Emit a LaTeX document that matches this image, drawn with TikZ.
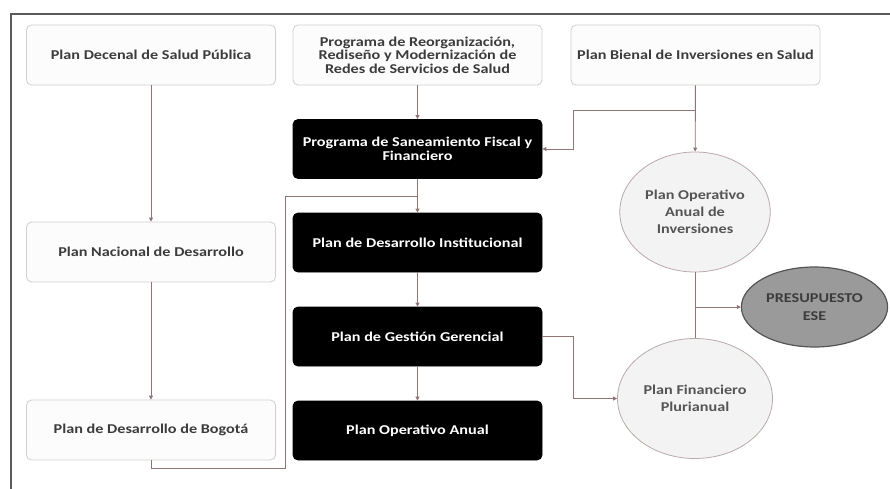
\documentclass[tikz,border=0pt]{standalone}
\usepackage{fontspec}
\setmainfont{Carlito}[FakeStretch=1.2]
\usepackage{xcolor}
\usepackage{tikz}
\usetikzlibrary{arrows.meta,shapes.geometric}
\definecolor{framec}{HTML}{5A5A5A}
\definecolor{boxline}{HTML}{D6CCCC}
\definecolor{boxbg}{HTML}{FCFCFC}
\definecolor{boxtext}{HTML}{3C3C3C}
\definecolor{circline}{HTML}{BBAAAA}
\definecolor{circbg}{HTML}{F3F3F3}
\definecolor{circtext}{HTML}{555555}
\definecolor{budbg}{HTML}{9A9A9A}
\definecolor{budline}{HTML}{555555}
\definecolor{linkc}{HTML}{8E7676}
\tikzset{
  frame/.style={draw=framec, line width=2pt},
  box/.style={draw=boxline, fill=boxbg, rounded corners=5pt, line width=0.8pt,
    minimum width=249, minimum height=60, align=center, text=boxtext,
    font=\bfseries\fontsize{13.5}{13.5}\selectfont},
  dark/.style={box, draw=black, fill=black, text=white, minimum height=59},
  circ/.style={ellipse, draw=circline, fill=circbg, line width=0.8pt,
    minimum width=132, minimum height=120, align=center, text=circtext,
    font=\bfseries\fontsize{13.5}{17}\selectfont},
  budget/.style={ellipse, draw=budline, fill=budbg, line width=1.2pt,
    minimum width=135, minimum height=80, align=center, text=boxtext,
    font=\bfseries\fontsize{13.5}{18}\selectfont},
  line/.style={draw=linkc, line width=0.9pt},
  link/.style={line, -{Triangle[length=4pt,width=4pt]}},
}
\begin{document}
\begin{tikzpicture}[x=1pt, y=-1pt]
  \useasboundingbox (0,0) rectangle (890,489);
  \draw[frame] (11,489) |- (890,14);
  \node[box] (decenal) at (151,55) {Plan Decenal de Salud Pública};
  \node[box] (reorg) at (417.5,55) {Programa de Reorganización,\\Rediseño y Modernización de\\Redes de Servicios de Salud};
  \node[box] (bienal) at (695.5,55) {Plan Bienal de Inversiones en Salud};
  \node[box] (nacional) at (151,252) {Plan Nacional de Desarrollo};
  \node[box] (bogota) at (151,430) {Plan de Desarrollo de Bogotá};
  \node[dark] (saneam) at (417.5,149) {Programa de Saneamiento Fiscal y\\Financiero};
  \node[dark] (instit) at (417.5,242.5) {Plan de Desarrollo Institucional};
  \node[dark] (gestion) at (417.5,336.5) {Plan de Gestión Gerencial};
  \node[dark] (operativo) at (417.5,430.5) {Plan Operativo Anual};
  \node[circ] (poai) at (695,212) {Plan Operativo\\Anual de\\Inversiones};
  \node[circ] (pfp) at (695,398.5) {Plan Financiero\\Plurianual};
  \node[budget] (ese) at (814.5,307) {PRESUPUESTO\\ESE};
  \coordinate (bsplit) at (695.5,110);
  \coordinate (join) at (417.5,196);
  \coordinate (esesplit) at (695,307);
  \draw[link] (decenal) -- (nacional);
  \draw[link] (nacional) -- (bogota);
  \draw[link] (reorg) -- (saneam);
  \draw[link] (saneam) -- (instit);
  \draw[link] (instit) -- (gestion);
  \draw[link] (gestion) -- (operativo);
  \draw[link] (bienal) -- (poai);
  \draw[link] (bsplit) -- (573,110) |- (saneam.east);
  \draw[line] (bogota.south) -- (151,468) -- (285,468) -- (285,196) -- (join);
  \draw[link] (gestion.east) -- (573,336.5) |- (pfp.west);
  \draw[line] (poai) -- (pfp);
  \draw[link] (esesplit) -- (ese.west);
\end{tikzpicture}
\end{document}
